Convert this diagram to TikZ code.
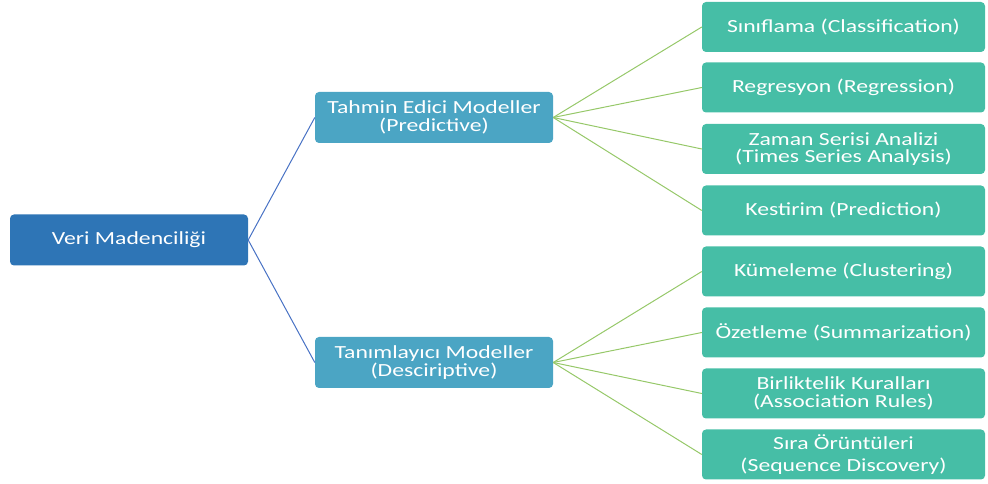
\documentclass[tikz,border=0pt]{standalone}
\usepackage{fontspec}
\setmainfont{Carlito}[FakeStretch=1.28]
\definecolor{rootblue}{RGB}{46,117,182}
\definecolor{midblue}{RGB}{75,165,196}
\definecolor{leafgreen}{RGB}{70,190,166}
\definecolor{linkblue}{RGB}{72,114,196}
\definecolor{linkgreen}{RGB}{150,200,105}
\begin{document}
\begin{tikzpicture}[x=1pt,y=1pt,
  box/.style={rounded corners=4pt, minimum height=51pt, text=white, align=center,
    font=\fontsize{18.5}{17.5}\selectfont, inner sep=0pt},
  rootbox/.style={box, fill=rootblue, minimum width=238pt},
  midbox/.style={box, fill=midblue, minimum width=238pt},
  leafbox/.style={box, fill=leafgreen, minimum width=283pt, minimum height=50pt},
  blink/.style={draw=linkblue, line width=1pt},
  glink/.style={draw=linkgreen, line width=1pt}]
\useasboundingbox (0,0) rectangle (988,484);

% tree levels
\node[rootbox] (root) at (129,244) {Veri Madenciliği};
\node[midbox] (pred) at (434,366.5) {Tahmin Edici Modeller\\(Predictive)};
\node[midbox] (desc) at (434,121.5) {Tanımlayıcı Modeller\\(Desciriptive)};

\node[leafbox] (l1) at (843.5,457)   {Sınıflama (Classification)};
\node[leafbox] (l2) at (843.5,396.5) {Regresyon (Regression)};
\node[leafbox] (l3) at (843.5,335)   {Zaman Serisi Analizi\\(Times Series Analysis)};
\node[leafbox] (l4) at (843.5,273.5) {Kestirim (Prediction)};
\node[leafbox] (l5) at (843.5,212.5) {Kümeleme (Clustering)};
\node[leafbox] (l6) at (843.5,151.5) {Özetleme (Summarization)};
\node[leafbox] (l7) at (843.5,90.5)  {Birliktelik Kuralları\\(Association Rules)};
\node[leafbox] (l8) at (843.5,29.5)  {Sıra Örüntüleri\\[5pt](Sequence Discovery)};

% connectors
\draw[blink] (root.east) -- (pred.west);
\draw[blink] (root.east) -- (desc.west);
\foreach \n in {l1,l2,l3,l4} \draw[glink] (pred.east) -- (\n.west);
\foreach \n in {l5,l6,l7,l8} \draw[glink] (desc.east) -- (\n.west);
\end{tikzpicture}
\end{document}
